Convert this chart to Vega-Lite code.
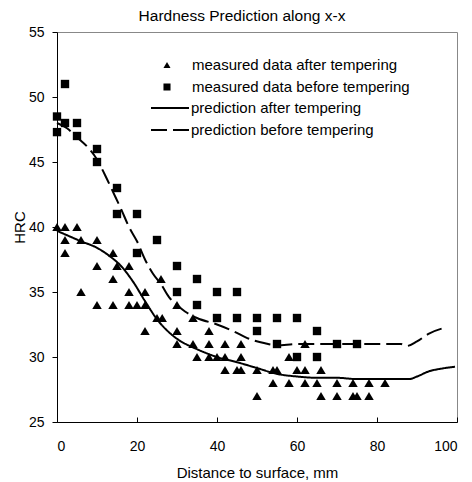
{
  "$schema": "https://vega.github.io/schema/vega-lite/v6.json",
  "autosize": "none",
  "width": 400,
  "height": 390,
  "padding": {"left": 57, "top": 32, "right": 15, "bottom": 60},
  "background": "white",
  "title": {"text": "Hardness Prediction along x-x", "font": "Liberation Sans", "fontSize": 15.5, "fontWeight": "normal", "color": "black", "anchor": "middle", "dx": -15, "offset": 1},
  "config": {
    "view": {"stroke": "#888888", "strokeWidth": 1},
    "axis": {"grid": false, "domainColor": "black", "tickColor": "black", "labelFont": "Liberation Sans", "labelFontSize": 14, "labelColor": "black", "titleFont": "Liberation Sans", "titleFontSize": 15, "titleFontWeight": "normal", "titleColor": "black"},
    "legend": {"labelFont": "Liberation Sans", "labelFontSize": 15, "labelColor": "black", "padding": 0, "clipHeight": 20, "rowPadding": 2, "labelLimit": 400, "symbolOpacity": 1}
  },
  "data": {"values": [
    {"series": "measured data after tempering", "x": 0, "y": 40},
    {"series": "measured data after tempering", "x": 2, "y": 40},
    {"series": "measured data after tempering", "x": 5, "y": 40},
    {"series": "measured data after tempering", "x": 2, "y": 39},
    {"series": "measured data after tempering", "x": 6, "y": 39},
    {"series": "measured data after tempering", "x": 10, "y": 39},
    {"series": "measured data after tempering", "x": 2, "y": 38},
    {"series": "measured data after tempering", "x": 14, "y": 38},
    {"series": "measured data after tempering", "x": 10, "y": 37},
    {"series": "measured data after tempering", "x": 15, "y": 37},
    {"series": "measured data after tempering", "x": 18, "y": 37},
    {"series": "measured data after tempering", "x": 14, "y": 36},
    {"series": "measured data after tempering", "x": 26, "y": 36},
    {"series": "measured data after tempering", "x": 6, "y": 35},
    {"series": "measured data after tempering", "x": 18, "y": 35},
    {"series": "measured data after tempering", "x": 22, "y": 35},
    {"series": "measured data after tempering", "x": 10, "y": 34},
    {"series": "measured data after tempering", "x": 14, "y": 34},
    {"series": "measured data after tempering", "x": 18, "y": 34},
    {"series": "measured data after tempering", "x": 20, "y": 34},
    {"series": "measured data after tempering", "x": 22, "y": 34},
    {"series": "measured data after tempering", "x": 30, "y": 34},
    {"series": "measured data after tempering", "x": 25, "y": 33},
    {"series": "measured data after tempering", "x": 26.3, "y": 33},
    {"series": "measured data after tempering", "x": 34, "y": 33},
    {"series": "measured data after tempering", "x": 22, "y": 32},
    {"series": "measured data after tempering", "x": 30, "y": 32},
    {"series": "measured data after tempering", "x": 38, "y": 32},
    {"series": "measured data after tempering", "x": 30, "y": 31},
    {"series": "measured data after tempering", "x": 34, "y": 31},
    {"series": "measured data after tempering", "x": 38, "y": 31},
    {"series": "measured data after tempering", "x": 42, "y": 31},
    {"series": "measured data after tempering", "x": 46, "y": 31},
    {"series": "measured data after tempering", "x": 62, "y": 31},
    {"series": "measured data after tempering", "x": 35, "y": 30},
    {"series": "measured data after tempering", "x": 38, "y": 30},
    {"series": "measured data after tempering", "x": 40, "y": 30},
    {"series": "measured data after tempering", "x": 42, "y": 30},
    {"series": "measured data after tempering", "x": 46, "y": 30},
    {"series": "measured data after tempering", "x": 58, "y": 30},
    {"series": "measured data after tempering", "x": 42, "y": 29},
    {"series": "measured data after tempering", "x": 45, "y": 29},
    {"series": "measured data after tempering", "x": 46, "y": 29},
    {"series": "measured data after tempering", "x": 50, "y": 29},
    {"series": "measured data after tempering", "x": 54, "y": 29},
    {"series": "measured data after tempering", "x": 55, "y": 29},
    {"series": "measured data after tempering", "x": 60, "y": 29},
    {"series": "measured data after tempering", "x": 62, "y": 29},
    {"series": "measured data after tempering", "x": 66, "y": 29},
    {"series": "measured data after tempering", "x": 54, "y": 28},
    {"series": "measured data after tempering", "x": 58, "y": 28},
    {"series": "measured data after tempering", "x": 62, "y": 28},
    {"series": "measured data after tempering", "x": 65, "y": 28},
    {"series": "measured data after tempering", "x": 70, "y": 28},
    {"series": "measured data after tempering", "x": 74, "y": 28},
    {"series": "measured data after tempering", "x": 78, "y": 28},
    {"series": "measured data after tempering", "x": 82, "y": 28},
    {"series": "measured data after tempering", "x": 50, "y": 27},
    {"series": "measured data after tempering", "x": 66, "y": 27},
    {"series": "measured data after tempering", "x": 70, "y": 27},
    {"series": "measured data after tempering", "x": 74, "y": 27},
    {"series": "measured data after tempering", "x": 75, "y": 27},
    {"series": "measured data after tempering", "x": 78, "y": 27},
    {"series": "measured data before tempering", "x": 0, "y": 48.5},
    {"series": "measured data before tempering", "x": 0, "y": 47.3},
    {"series": "measured data before tempering", "x": 2, "y": 51},
    {"series": "measured data before tempering", "x": 2, "y": 48},
    {"series": "measured data before tempering", "x": 5, "y": 48},
    {"series": "measured data before tempering", "x": 5, "y": 47},
    {"series": "measured data before tempering", "x": 10, "y": 46},
    {"series": "measured data before tempering", "x": 10, "y": 45},
    {"series": "measured data before tempering", "x": 15, "y": 43},
    {"series": "measured data before tempering", "x": 15, "y": 41},
    {"series": "measured data before tempering", "x": 20, "y": 41},
    {"series": "measured data before tempering", "x": 20, "y": 38},
    {"series": "measured data before tempering", "x": 25, "y": 39},
    {"series": "measured data before tempering", "x": 30, "y": 37},
    {"series": "measured data before tempering", "x": 30, "y": 35},
    {"series": "measured data before tempering", "x": 35, "y": 36},
    {"series": "measured data before tempering", "x": 35, "y": 34},
    {"series": "measured data before tempering", "x": 40, "y": 35},
    {"series": "measured data before tempering", "x": 40, "y": 33},
    {"series": "measured data before tempering", "x": 45, "y": 35},
    {"series": "measured data before tempering", "x": 45, "y": 33},
    {"series": "measured data before tempering", "x": 50, "y": 33},
    {"series": "measured data before tempering", "x": 50, "y": 32},
    {"series": "measured data before tempering", "x": 55, "y": 33},
    {"series": "measured data before tempering", "x": 55, "y": 31},
    {"series": "measured data before tempering", "x": 60, "y": 33},
    {"series": "measured data before tempering", "x": 60, "y": 30},
    {"series": "measured data before tempering", "x": 65, "y": 32},
    {"series": "measured data before tempering", "x": 65, "y": 30},
    {"series": "measured data before tempering", "x": 70, "y": 31},
    {"series": "measured data before tempering", "x": 75, "y": 31},
    {"series": "prediction after tempering", "x": 0, "y": 39.7},
    {"series": "prediction after tempering", "x": 3, "y": 39.3},
    {"series": "prediction after tempering", "x": 6, "y": 38.9},
    {"series": "prediction after tempering", "x": 10, "y": 38.4},
    {"series": "prediction after tempering", "x": 13, "y": 37.8},
    {"series": "prediction after tempering", "x": 16, "y": 37},
    {"series": "prediction after tempering", "x": 19, "y": 35.8},
    {"series": "prediction after tempering", "x": 22, "y": 34.3},
    {"series": "prediction after tempering", "x": 25, "y": 32.9},
    {"series": "prediction after tempering", "x": 28, "y": 31.9},
    {"series": "prediction after tempering", "x": 30, "y": 31.4},
    {"series": "prediction after tempering", "x": 35, "y": 30.6},
    {"series": "prediction after tempering", "x": 40, "y": 30},
    {"series": "prediction after tempering", "x": 45, "y": 29.6},
    {"series": "prediction after tempering", "x": 50, "y": 29.15},
    {"series": "prediction after tempering", "x": 55, "y": 28.7},
    {"series": "prediction after tempering", "x": 60, "y": 28.5},
    {"series": "prediction after tempering", "x": 65, "y": 28.4},
    {"series": "prediction after tempering", "x": 70, "y": 28.4},
    {"series": "prediction after tempering", "x": 75, "y": 28.3},
    {"series": "prediction after tempering", "x": 80, "y": 28.3},
    {"series": "prediction after tempering", "x": 85, "y": 28.3},
    {"series": "prediction after tempering", "x": 88, "y": 28.3},
    {"series": "prediction after tempering", "x": 90, "y": 28.5},
    {"series": "prediction after tempering", "x": 93, "y": 28.9},
    {"series": "prediction after tempering", "x": 96, "y": 29.1},
    {"series": "prediction after tempering", "x": 99.5, "y": 29.25},
    {"series": "prediction before tempering", "x": 0, "y": 48},
    {"series": "prediction before tempering", "x": 2.5, "y": 47.6},
    {"series": "prediction before tempering", "x": 5, "y": 46.9},
    {"series": "prediction before tempering", "x": 7.5, "y": 46.2},
    {"series": "prediction before tempering", "x": 10, "y": 45.2},
    {"series": "prediction before tempering", "x": 12, "y": 44},
    {"series": "prediction before tempering", "x": 14, "y": 42.7},
    {"series": "prediction before tempering", "x": 16, "y": 41.4},
    {"series": "prediction before tempering", "x": 18, "y": 40},
    {"series": "prediction before tempering", "x": 20, "y": 38.9},
    {"series": "prediction before tempering", "x": 22, "y": 37.5},
    {"series": "prediction before tempering", "x": 24, "y": 36.4},
    {"series": "prediction before tempering", "x": 26, "y": 35.6},
    {"series": "prediction before tempering", "x": 28, "y": 34.6},
    {"series": "prediction before tempering", "x": 30, "y": 34},
    {"series": "prediction before tempering", "x": 32, "y": 33.5},
    {"series": "prediction before tempering", "x": 35, "y": 33},
    {"series": "prediction before tempering", "x": 40, "y": 32.5},
    {"series": "prediction before tempering", "x": 44, "y": 32},
    {"series": "prediction before tempering", "x": 48, "y": 31.4},
    {"series": "prediction before tempering", "x": 52, "y": 31.05},
    {"series": "prediction before tempering", "x": 55, "y": 30.9},
    {"series": "prediction before tempering", "x": 60, "y": 31},
    {"series": "prediction before tempering", "x": 70, "y": 31},
    {"series": "prediction before tempering", "x": 80, "y": 31},
    {"series": "prediction before tempering", "x": 86, "y": 31},
    {"series": "prediction before tempering", "x": 87.5, "y": 30.85},
    {"series": "prediction before tempering", "x": 90, "y": 31.2},
    {"series": "prediction before tempering", "x": 93, "y": 31.8},
    {"series": "prediction before tempering", "x": 97.5, "y": 32.3}
  ]},
  "encoding": {
    "x": {"field": "x", "type": "quantitative", "scale": {"domain": [0, 100], "nice": false}, "axis": {"title": "Distance to surface, mm", "values": [0, 20, 40, 60, 80, 100], "tickSize": -5, "labelPadding": 22, "titlePadding": 12}},
    "y": {"field": "y", "type": "quantitative", "scale": {"domain": [25, 55], "nice": false, "zero": false}, "axis": {"title": "HRC", "values": [25, 30, 35, 40, 45, 50, 55], "tickSize": 5, "labelPadding": 8, "titlePadding": 1}}
  },
  "layer": [
    {
      "transform": [{"filter": "indexof(datum.series, 'prediction') === 0"}],
      "mark": {"type": "line", "color": "black", "strokeWidth": 2, "interpolate": "monotone"},
      "encoding": {
        "strokeDash": {"field": "series", "type": "nominal",
          "scale": {"domain": ["prediction after tempering", "prediction before tempering"], "range": [[1, 0], [16, 6]]},
          "legend": {"title": null, "orient": "none", "legendX": 93, "legendY": 66, "symbolType": "stroke", "symbolSize": 1444, "symbolStrokeWidth": 2, "symbolStrokeColor": "black", "labelOffset": 1}}
      }
    },
    {
      "transform": [{"filter": "datum.series === 'measured data after tempering'"}],
      "mark": {"type": "point", "filled": true, "color": "black", "opacity": 1, "size": 90},
      "encoding": {
        "shape": {"field": "series", "type": "nominal",
          "scale": {"domain": ["measured data after tempering", "measured data before tempering"], "range": ["triangle-up", "square"]},
          "legend": {"title": null, "orient": "none", "legendX": 102.5, "legendY": 23, "symbolSize": 50, "symbolFillColor": "black", "labelOffset": 17.5}}
      }
    },
    {
      "transform": [{"filter": "datum.series === 'measured data before tempering'"}],
      "mark": {"type": "point", "filled": true, "color": "black", "opacity": 1, "size": 70},
      "encoding": {
        "shape": {"field": "series", "type": "nominal"}
      }
    }
  ]
}
